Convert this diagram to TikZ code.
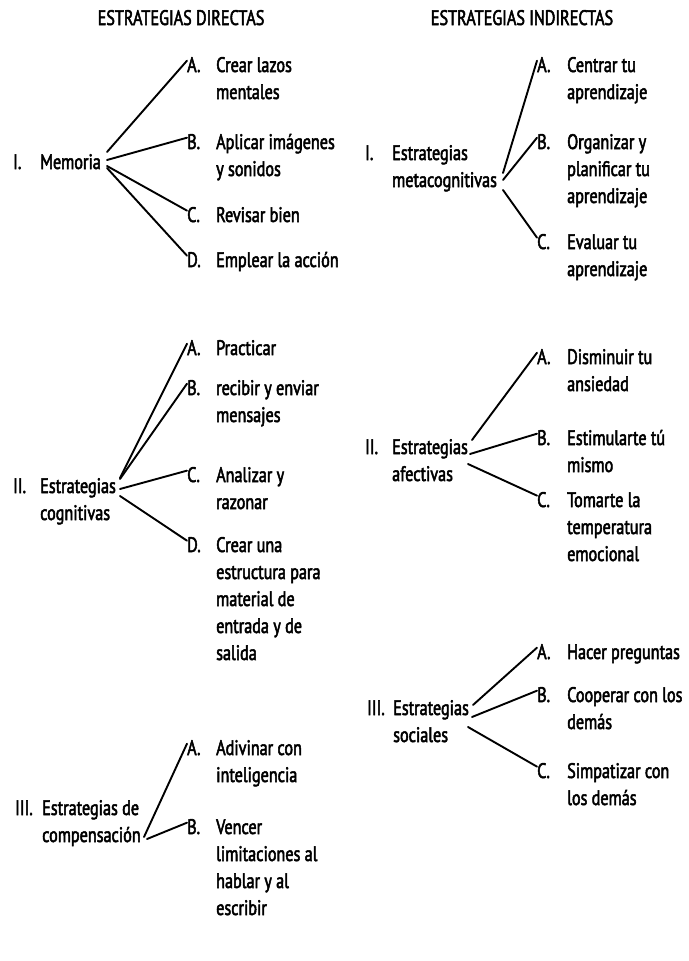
\documentclass[tikz,border=0pt]{standalone}
\usepackage{fontspec}
\setmainfont{PT Sans}[FakeStretch=0.77,FakeBold=2.4]
\newcommand\strfont{\fontsize{21}{27}\selectfont}
\newcommand\ml[1]{\begin{tabular}[t]{@{}l@{}}#1\end{tabular}}
\begin{document}
\begin{tikzpicture}[x=1pt,y=-1pt,
  txt/.style={font=\strfont, inner sep=0pt, anchor=base west},
  head/.style={font=\strfont, inner sep=0pt, anchor=base},
  conn/.style={draw=black, line width=1.9pt, line cap=round}]
\useasboundingbox (0,0) rectangle (688,961);
\fill[white] (0,0) rectangle (688,961);

% headers
\node[head] (hd) at (181,25) {ESTRATEGIAS DIRECTAS};
\node[head] (hi) at (522,25) {ESTRATEGIAS INDIRECTAS};

% ---------- Left I
\node[txt] (dI) at (13,169) {I.};
\node[txt] (dIt) at (40,169) {Memoria};
\coordinate (dIh) at (107,160);
\node[txt] (dIA) at (187,72) {A.};
\node[txt] (dIAt) at (216,72) {\ml{Crear lazos\\mentales}};
\node[txt] (dIB) at (187,149) {B.};
\node[txt] (dIBt) at (216,149) {\ml{Aplicar imágenes\\y sonidos}};
\node[txt] (dIC) at (187,222) {C.};
\node[txt] (dICt) at (216,222) {Revisar bien};
\node[txt] (dID) at (187,267) {D.};
\node[txt] (dIDt) at (216,267) {Emplear la acción};
\draw[conn] ([yshift=8pt]dIh) -- ([yshift=4pt]dIA.west);
\draw[conn] (dIh) -- ([yshift=4pt]dIB.west);
\draw[conn] ([yshift=-6pt]dIh) -- ([yshift=4pt]dIC.west);
\draw[conn] ([yshift=-8pt]dIh) -- ([yshift=4pt]dID.west);

% ---------- Left II
\node[txt] (dII) at (13,493) {II.};
\node[txt] (dIIt) at (40,493) {\ml{Estrategias\\cognitivas}};
\coordinate (dIIh) at (120,486);
\node[txt] (dIIA) at (187,355) {A.};
\node[txt] (dIIAt) at (216,355) {Practicar};
\node[txt] (dIIB) at (187,395) {B.};
\node[txt] (dIIBt) at (216,395) {\ml{recibir y enviar\\mensajes}};
\node[txt] (dIIC) at (187,482) {C.};
\node[txt] (dIICt) at (216,482) {\ml{Analizar y\\razonar}};
\node[txt] (dIID) at (187,552) {D.};
\node[txt] (dIIDt) at (216,552) {\ml{Crear una\\estructura para\\material de\\entrada y de\\salida}};
\draw[conn] ([yshift=8pt]dIIh) -- ([yshift=4pt]dIIA.west);
\draw[conn] ([yshift=7pt]dIIh) -- ([yshift=4pt]dIIB.west);
\draw[conn] ([yshift=-3pt]dIIh) -- ([yshift=4pt]dIIC.west);
\draw[conn] ([yshift=-10pt]dIIh) -- ([yshift=4pt]dIID.west);

% ---------- Left III
\node[txt] (dIII) at (15,815) {III.};
\node[txt] (dIIIt) at (42,815) {\ml{Estrategias de\\compensación}};
\coordinate (dIIIh) at (144,837);
\node[txt] (dIIIA) at (187,755) {A.};
\node[txt] (dIIIAt) at (216,755) {\ml{Adivinar con\\inteligencia}};
\node[txt] (dIIIB) at (187,834) {B.};
\node[txt] (dIIIBt) at (216,834) {\ml{Vencer\\limitaciones al\\hablar y al\\escribir}};
\draw[conn] (dIIIh) -- ([yshift=4pt]dIIIA.west);
\draw[conn] ([xshift=3pt,yshift=-2pt]dIIIh) -- ([yshift=4pt]dIIIB.west);

% ---------- Right I
\node[txt] (iI) at (365,160) {I.};
\node[txt] (iIt) at (392,160) {\ml{Estrategias\\metacognitivas}};
\coordinate (iIh) at (503,180);
\node[txt] (iIA) at (537,72) {A.};
\node[txt] (iIAt) at (567,72) {\ml{Centrar tu\\aprendizaje}};
\node[txt] (iIB) at (537,149) {B.};
\node[txt] (iIBt) at (567,149) {\ml{Organizar y\\planificar tu\\aprendizaje}};
\node[txt] (iIC) at (537,249) {C.};
\node[txt] (iICt) at (567,249) {\ml{Evaluar tu\\aprendizaje}};
\draw[conn] ([yshift=7pt]iIh) -- ([yshift=4pt]iIA.west);
\draw[conn] (iIh) -- ([yshift=4pt]iIB.west);
\draw[conn] ([yshift=-10pt]iIh) -- ([yshift=4pt]iIC.west);

% ---------- Right II
\node[txt] (iII) at (365,454) {II.};
\node[txt] (iIIt) at (392,454) {\ml{Estrategias\\afectivas}};
\coordinate (iIIh) at (470,454);
\node[txt] (iIIA) at (537,364) {A.};
\node[txt] (iIIAt) at (567,364) {\ml{Disminuir tu\\ansiedad}};
\node[txt] (iIIB) at (537,445) {B.};
\node[txt] (iIIBt) at (567,445) {\ml{Estimularte tú\\mismo}};
\node[txt] (iIIC) at (537,507) {C.};
\node[txt] (iIICt) at (567,507) {\ml{Tomarte la\\temperatura\\emocional}};
\draw[conn] ([xshift=2pt,yshift=14pt]iIIh) -- ([yshift=4pt]iIIA.west);
\draw[conn] (iIIh) -- ([yshift=4pt]iIIB.west);
\draw[conn] ([xshift=-2pt,yshift=-10pt]iIIh) -- ([yshift=4pt]iIIC.west);

% ---------- Right III
\node[txt] (iIII) at (367,715) {III.};
\node[txt] (iIIIt) at (393,715) {\ml{Estrategias\\sociales}};
\coordinate (iIIIh) at (472,717);
\node[txt] (iIIIA) at (537,659) {A.};
\node[txt] (iIIIAt) at (567,659) {Hacer preguntas};
\node[txt] (iIIIB) at (537,702) {B.};
\node[txt] (iIIIBt) at (567,702) {\ml{Cooperar con los\\demás}};
\node[txt] (iIIIC) at (537,778) {C.};
\node[txt] (iIIICt) at (567,778) {\ml{Simpatizar con\\los demás}};
\draw[conn] ([xshift=1pt,yshift=12pt]iIIIh) -- ([yshift=4pt]iIIIA.west);
\draw[conn] (iIIIh) -- ([yshift=4pt]iIIIB.west);
\draw[conn] ([xshift=-4pt,yshift=-10pt]iIIIh) -- ([yshift=4pt]iIIIC.west);
\end{tikzpicture}
\end{document}
